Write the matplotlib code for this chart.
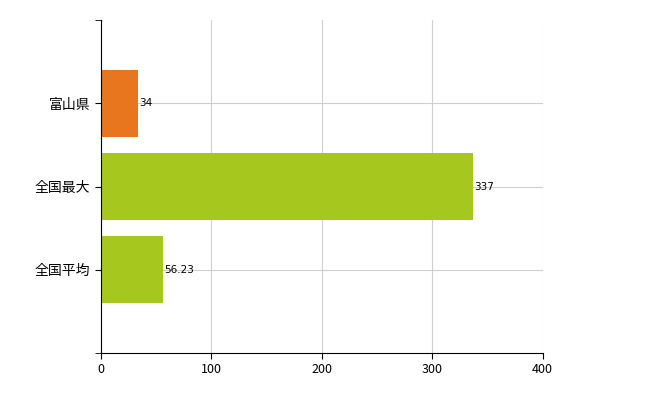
import matplotlib.pyplot as plt

plt.rcParams['font.family'] = ['Noto Sans CJK JP', 'DejaVu Sans']

# data (top to bottom in the chart)
categories = ['富山県', '全国最大', '全国平均']
values = [34, 337, 56.23]
labels = ['34', '337', '56.23']
colors = ['#E8761E', '#A6C81E', '#A6C81E']

fig = plt.figure(figsize=(6.5, 4.0), dpi=100)
ax = fig.add_axes([0.155, 0.1175, 0.68, 0.8325])

ypos = [3, 2, 1]
ax.barh(ypos, values, height=0.8, color=colors, zorder=2)
for y, v, t in zip(ypos, values, labels):
    ax.text(v + 1, y, t, va='center', ha='left', fontsize=7.5,
            family='DejaVu Sans', zorder=3)

ax.set_xlim(0, 400)
ax.set_ylim(0, 4)
ax.set_xticks([0, 100, 200, 300, 400])
ax.set_yticks(ypos)
ax.set_yticklabels(categories, fontsize=10)
ax.set_yticks([0, 4], minor=True)
ax.tick_params(axis='both', which='both', direction='out', length=4, labelsize=9)
ax.tick_params(axis='y', labelsize=10)
ax.grid(True, color='#d0d0d0', linewidth=0.8, zorder=0)

for s in ['top', 'right']:
    ax.spines[s].set_visible(False)

fig.savefig('out.png', dpi=100)
